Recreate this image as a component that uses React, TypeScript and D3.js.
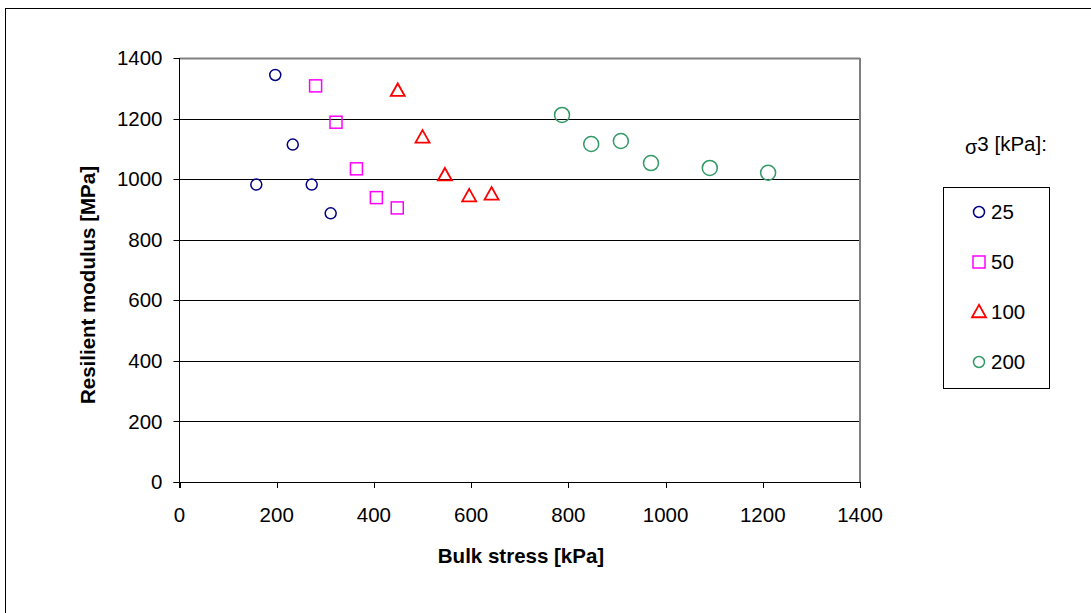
import React from "react";
import * as d3 from "d3";

const xTicks = [0, 200, 400, 600, 800, 1000, 1200, 1400];
const yTicks = [0, 200, 400, 600, 800, 1000, 1200, 1400];

const s25x = [197, 233, 158, 272, 311];
const s25y = [1344, 1114, 982, 982, 887];
const s50x = [280, 322, 364, 405, 448];
const s50y = [1308, 1188, 1034, 939, 905];
const s100x = [449, 500, 546, 596, 642];
const s100y = [1292, 1138, 1013, 944, 950];
const s200x = [787, 847, 908, 970, 1091, 1211];
const s200y = [1212, 1116, 1126, 1053, 1037, 1021];

const seriesNames = ["25", "50", "100", "200"];

type Shape = "circle" | "square" | "triangle" | "bigcircle";

const series = [
  { name: seriesNames[0], xs: s25x, ys: s25y, color: "#000080", shape: "circle" as Shape },
  { name: seriesNames[1], xs: s50x, ys: s50y, color: "#FF00FF", shape: "square" as Shape },
  { name: seriesNames[2], xs: s100x, ys: s100y, color: "#FF0000", shape: "triangle" as Shape },
  { name: seriesNames[3], xs: s200x, ys: s200y, color: "#339966", shape: "bigcircle" as Shape },
];

function Marker({ x, y, shape, color, legend = false }: { x: number; y: number; shape: Shape; color: string; legend?: boolean }) {
  const sw = 1.5;
  if (shape === "circle") return <circle cx={x} cy={y} r={5.5} fill="none" stroke={color} strokeWidth={sw} />;
  if (shape === "bigcircle") return <circle cx={x} cy={y} r={legend ? 5.5 : 7.5} fill="none" stroke={color} strokeWidth={sw} />;
  if (shape === "square") return <rect x={x - 6} y={y - 6} width={12} height={12} fill="none" stroke={color} strokeWidth={sw} />;
  const h = 12.5, w = 14;
  return (
    <path
      d={`M${x},${y - h / 2 - 1} L${x + w / 2},${y + h / 2 - 1} L${x - w / 2},${y + h / 2 - 1} Z`}
      fill="none"
      stroke={color}
      strokeWidth={sw + 0.3}
      strokeLinejoin="miter"
    />
  );
}

export default function App() {
  const W = 1091, H = 613;
  const left = 179.5, right = 860, top = 58, bottom = 482;
  const x = d3.scaleLinear().domain([0, 1400]).range([left, right]);
  const y = d3.scaleLinear().domain([0, 1400]).range([bottom, top]);
  const font = "'Liberation Sans', Arial, sans-serif";
  const fs = 20.5;

  return (
    <svg width={W} height={H} style={{ position: "absolute", left: 0, top: 0, background: "#fff" }} fontFamily={font}>
      <rect x={5.5} y={8.5} width={W} height={H} fill="#fff" stroke="#000" strokeWidth={1} />
      {/* gridlines */}
      {yTicks.filter((t) => t > 0 && t < 1400).map((t) => (
        <line key={t} x1={left} x2={right} y1={Math.round(y(t)) + 0.5} y2={Math.round(y(t)) + 0.5} stroke="#000" strokeWidth={1} />
      ))}
      {/* plot frame top & right */}
      <line x1={left} x2={right} y1={top + 0.5} y2={top + 0.5} stroke="#808080" strokeWidth={2} />
      <line x1={right} x2={right} y1={top} y2={bottom} stroke="#808080" strokeWidth={2} />
      {/* axes */}
      <line x1={left} x2={left} y1={top} y2={bottom + 6} stroke="#000" strokeWidth={1} />
      <line x1={left - 6} x2={right} y1={bottom + 0.5} y2={bottom + 0.5} stroke="#000" strokeWidth={1} />
      {yTicks.map((t) => (
        <g key={"y" + t}>
          <line x1={left - 6} x2={left} y1={Math.round(y(t)) + 0.5} y2={Math.round(y(t)) + 0.5} stroke="#000" />
          <text x={left - 17} y={y(t)} dy="0.35em" textAnchor="end" fontSize={fs}>{t}</text>
        </g>
      ))}
      {xTicks.map((t) => (
        <g key={"x" + t}>
          <line x1={Math.round(x(t)) + 0.5} x2={Math.round(x(t)) + 0.5} y1={bottom} y2={bottom + 6} stroke="#000" />
          <text x={x(t)} y={bottom + 40} textAnchor="middle" fontSize={fs}>{t}</text>
        </g>
      ))}
      <text x={521} y={563} textAnchor="middle" fontSize={fs} fontWeight="bold">Bulk stress [kPa]</text>
      <text transform={`translate(95,285) rotate(-90)`} textAnchor="middle" fontSize={fs} fontWeight="bold">Resilient modulus [MPa]</text>
      {/* points */}
      {series.map((s) =>
        s.xs.map((v, i) => <Marker key={s.name + i} x={x(v)} y={y(s.ys[i])} shape={s.shape} color={s.color} />)
      )}
      {/* legend title */}
      <text x={965} y={151} fontSize={fs}>
        <tspan fontSize={20} dy={3}>σ</tspan>
        <tspan dy={-3}>3 [kPa]:</tspan>
      </text>
      <rect x={943.5} y={187.5} width={106} height={201} fill="#fff" stroke="#000" strokeWidth={1} />
      {series.map((s, i) => {
        const ly = 212 + i * 50;
        return (
          <g key={"l" + s.name}>
            <Marker x={979} y={ly} shape={s.shape} color={s.color} legend />
            <text x={991} y={ly} dy="0.35em" fontSize={fs}>{s.name}</text>
          </g>
        );
      })}
    </svg>
  );
}
